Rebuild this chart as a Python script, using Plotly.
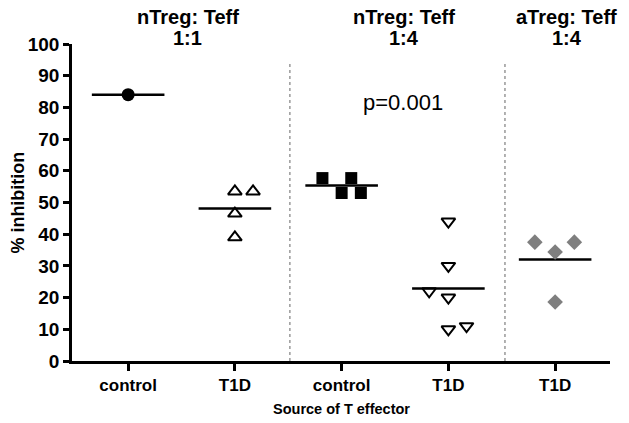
import plotly.graph_objects as go

# ---- data ----
categories = ["control", "T1D", "control", "T1D", "T1D"]
group_titles = [("nTreg: Teff", "1:1"), ("nTreg: Teff", "1:4"), ("aTreg: Teff", "1:4")]

ctrl_1to1 = [84]
t1d_1to1 = [53.5, 53.5, 46.5, 39]
ctrl_1to4 = [57.7, 53, 57.7, 53]
t1d_1to4 = [44, 30, 22, 20, 10, 11]
atreg_t1d_1to4 = [37.5, 34.4, 37.5, 18.6]

# horizontal scatter offsets of points (category units)
jit_ctrl_1to1 = [0]
jit_t1d_1to1 = [0, 0.17, 0, 0]
jit_ctrl_1to4 = [-0.18, 0, 0.09, 0.18]
jit_t1d_1to4 = [0, 0, -0.18, 0, 0, 0.17]
jit_atreg = [-0.19, 0, 0.18, 0]

p_text = "p=0.001"
y_ticks = list(range(0, 101, 10))

FONT = "Liberation Sans, Arial, sans-serif"

series = [
    (0, ctrl_1to1, jit_ctrl_1to1, dict(symbol="circle", size=13, color="black")),
    (1, t1d_1to1, jit_t1d_1to1, dict(symbol="triangle-up-open", size=12, color="black", line=dict(width=2, color="black"))),
    (2, ctrl_1to4, jit_ctrl_1to4, dict(symbol="square", size=12, color="black")),
    (3, t1d_1to4, jit_t1d_1to4, dict(symbol="triangle-down-open", size=12, color="black", line=dict(width=2, color="black"))),
    (4, atreg_t1d_1to4, jit_atreg, dict(symbol="diamond", size=12, color="#7f7f7f")),
]

fig = go.Figure()
for pos, vals, jit, mk in series:
    mean = sum(vals) / len(vals)
    fig.add_trace(go.Scatter(x=[pos - 0.34, pos + 0.34], y=[mean, mean], mode="lines",
                             line=dict(color="black", width=2.5), showlegend=False, hoverinfo="skip"))
    fig.add_trace(go.Scatter(x=[pos + j for j in jit], y=vals, mode="markers",
                             marker=mk, showlegend=False, cliponaxis=False))

for xd in [1.515, 3.53]:
    fig.add_shape(type="line", xref="x", yref="y", x0=xd, x1=xd, y0=0, y1=94.3,
                  line=dict(color="#999999", width=1.5, dash="dot"))

title_x = [0.2156, 0.617, 0.92]
for (l1, l2), tx in zip(group_titles, title_x):
    fig.add_annotation(text="<b>%s</b>" % l1, x=tx, y=1.085, xref="paper", yref="paper",
                       showarrow=False, xanchor="center", yanchor="middle",
                       font=dict(family=FONT, size=20, color="black"))
    fig.add_annotation(text="<b>%s</b>" % l2, x=tx, y=1.019, xref="paper", yref="paper",
                       showarrow=False, xanchor="center", yanchor="middle",
                       font=dict(family=FONT, size=20, color="black"))

fig.add_annotation(text=p_text, x=0.615, y=0.814, xref="paper", yref="paper", showarrow=False,
                   xanchor="center", yanchor="middle", font=dict(family=FONT, size=22, color="black"))
fig.add_annotation(text="<b>% inhibition</b>", x=-0.102, y=0.5, xref="paper", yref="paper",
                   showarrow=False, textangle=-90, xanchor="center", yanchor="middle",
                   font=dict(family=FONT, size=18, color="black"))
fig.add_annotation(text="<b>Source of T effector</b>", x=0.5, y=-0.15, xref="paper", yref="paper",
                   showarrow=False, xanchor="center", yanchor="middle",
                   font=dict(family=FONT, size=14.5, color="black"))

fig.update_xaxes(range=[-0.526, 4.514], tickvals=list(range(len(categories))),
                 ticktext=["<b>%s</b>" % c for c in categories],
                 showline=True, linecolor="black", linewidth=2.5, ticks="outside", ticklen=7,
                 tickwidth=2.5, tickcolor="black", showgrid=False, zeroline=False,
                 tickfont=dict(family=FONT, size=17, color="black"))
fig.update_yaxes(range=[0, 100], tickvals=y_ticks, ticktext=["<b>%d</b>" % v for v in y_ticks],
                 showline=True, linecolor="black", linewidth=2.5, ticks="outside", ticklen=6,
                 tickwidth=2.5, tickcolor="black", showgrid=False, zeroline=False,
                 tickfont=dict(family=FONT, size=19, color="black"))

fig.update_layout(width=613, height=407, margin=dict(l=64, r=11, t=36, b=54, autoexpand=False),
                  plot_bgcolor="white", paper_bgcolor="white", font=dict(family=FONT))
fig.write_html("out.html")
